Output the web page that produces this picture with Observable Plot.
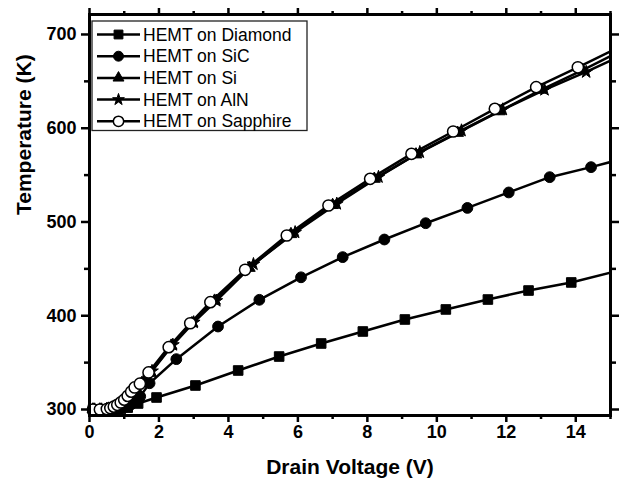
<!DOCTYPE html>
<html><head><meta charset="utf-8">
<script src="https://cdn.jsdelivr.net/npm/d3@7"></script>
<script src="https://cdn.jsdelivr.net/npm/@observablehq/plot@0.6"></script>
<style>
html,body{margin:0;padding:0;background:#fff;}
#chart{width:620px;height:486px;}
</style></head><body><div id="chart"></div>
<script>
// ---- data ----
const seriesNames = ["HEMT on Diamond", "HEMT on SiC", "HEMT on Si", "HEMT on AlN", "HEMT on Sapphire"];

const diamondV = [0.1, 0.4, 0.7, 0.9, 1.1, 1.4, 1.93, 3.05, 4.28, 5.46, 6.67, 7.87, 9.08, 10.26, 11.47, 12.64, 13.87, 15];
const diamondT = [300, 300, 300, 300.5, 302, 306.4, 312.8, 325.6, 341.6, 356.5, 370.4, 383.2, 396, 406.7, 417.3, 426.9, 435.5, 446];

const sicV = [0.1, 0.3, 0.5, 0.7, 0.9, 1.05, 1.2, 1.35, 1.46, 1.73, 2.5, 3.7, 4.89, 6.09, 7.29, 8.49, 9.68, 10.88, 12.07, 13.25, 14.44, 15];
const sicT = [300, 300, 300, 300.5, 301.5, 303, 305.5, 309, 314, 328, 353.7, 388.5, 417, 441, 462.5, 481.3, 498.7, 515, 531.5, 547.8, 558.5, 564];

const siV = [0.1, 0.3, 0.5, 0.7, 0.9, 1.05, 1.2, 1.35, 1.5, 1.75, 2.35, 2.95, 3.6, 4.6, 5.8, 7.0, 8.2, 9.4, 10.6, 11.8, 13.0, 14.2, 15];
const siT = [300, 300, 300.5, 302, 305, 309, 315, 321, 328, 339, 368, 392, 416, 451, 487, 518, 546, 572, 595, 618, 641, 662, 677];

const alnV = [0.15, 0.35, 0.55, 0.75, 0.95, 1.1, 1.25, 1.4, 1.55, 1.8, 2.4, 3.0, 3.65, 4.72, 5.92, 7.12, 8.32, 9.51, 10.71, 11.9, 13.1, 14.3, 15];
const alnT = [300, 300, 301, 302.5, 306, 311, 317, 323, 330, 341, 369, 393, 416, 455, 489, 519.4, 548, 574.5, 597.6, 620, 641, 660, 672];

const sapphireV = [0.1, 0.3, 0.5, 0.6, 0.7, 0.8, 0.9, 1.0, 1.1, 1.2, 1.3, 1.45, 1.7, 2.28, 2.9, 3.48, 4.48, 5.68, 6.88, 8.08, 9.27, 10.47, 11.67, 12.86, 14.06, 15];
const sapphireT = [300, 300, 300.5, 301.5, 303, 305, 307.5, 310.5, 314.5, 319, 323.5, 327.5, 339.5, 366.5, 392, 414.5, 449, 485.6, 517.6, 546, 572.7, 596.5, 620.7, 643.8, 665, 682];

const xTicks = [0, 2, 4, 6, 8, 10, 12, 14];
const xMinorTicks = [1, 3, 5, 7, 9, 11, 13, 15];
const yTicks = [300, 400, 500, 600, 700];
const yMinorTicks = [350, 450, 550, 650];
const xTitle = "Drain Voltage (V)";
const yTitle = "Temperature (K)";

// ---- styling per series ----
const styles = [
  {symbol: "square", fill: "black", stroke: "black", r: 5.4, sw: 1},
  {symbol: "circle", fill: "black", stroke: "black", r: 5.4, sw: 1},
  {symbol: "triangle", fill: "black", stroke: "black", r: 4.4, sw: 1},
  {symbol: "star", fill: "black", stroke: "black", r: 4.0, sw: 1},
  {symbol: "circle", fill: "white", stroke: "black", r: 5.6, sw: 1.5}
];
const vs = [diamondV, sicV, siV, alnV, sapphireV];
const ts = [diamondT, sicT, siT, alnT, sapphireT];

const series = seriesNames.map((name, i) => ({
  name, style: styles[i],
  rows: vs[i].map((v, j) => ({v, t: ts[i][j], last: j === vs[i].length - 1}))
}));

const font = "'Liberation Sans', Arial, Helvetica, sans-serif";

const marks = [];
for (const s of series) {
  marks.push(Plot.line(s.rows, {x: "v", y: "t", stroke: "black", strokeWidth: 2.5, clip: true}));
  marks.push(Plot.dot(s.rows.filter(d => !d.last), {
    x: "v", y: "t", symbol: s.style.symbol, r: s.style.r,
    fill: s.style.fill, stroke: s.style.stroke, strokeWidth: s.style.sw
  }));
}
const blank = () => "";
marks.push(
  Plot.axisX(xTicks, {anchor: "bottom", tickSize: 7, tickPadding: 3, strokeWidth: 2.5, fontSize: 18, fontWeight: "bold", label: null}),
  Plot.axisX(xMinorTicks, {anchor: "bottom", tickSize: 4, strokeWidth: 2.5, tickFormat: blank, label: null}),
  Plot.axisX(xTicks, {anchor: "top", tickSize: 7, strokeWidth: 2.5, tickFormat: blank, label: null}),
  Plot.axisX(xMinorTicks, {anchor: "top", tickSize: 4, strokeWidth: 2.5, tickFormat: blank, label: null}),
  Plot.axisY(yTicks, {anchor: "left", tickSize: 8, tickPadding: 5, strokeWidth: 2.5, fontSize: 18, fontWeight: "bold", label: null}),
  Plot.axisY(yMinorTicks, {anchor: "left", tickSize: 5, strokeWidth: 2.5, tickFormat: blank, label: null}),
  Plot.axisY(yTicks, {anchor: "right", tickSize: 8, strokeWidth: 2.5, tickFormat: blank, label: null}),
  Plot.axisY(yMinorTicks, {anchor: "right", tickSize: 5, strokeWidth: 2.5, tickFormat: blank, label: null}),
  Plot.frame({stroke: "black", strokeWidth: 3}),
  Plot.text([xTitle], {frameAnchor: "bottom", dy: 58, fontSize: 21, fontWeight: "bold", fill: "black"}),
  Plot.text([yTitle], {frameAnchor: "left", dx: -65, rotate: -90, fontSize: 21, fontWeight: "bold", fill: "black"})
);

const svg = Plot.plot({
  width: 620, height: 486,
  marginLeft: 89, marginRight: 10, marginTop: 14, marginBottom: 71,
  x: {domain: [0, 15]},
  y: {domain: [293.6, 721.3]},
  style: {fontFamily: font, color: "black", background: "white", overflow: "visible"},
  marks
});
document.getElementById("chart").appendChild(svg);

// ---- legend (inside plot, top-left) ----
const lg = d3.select(svg).append("g").attr("font-family", font).attr("text-anchor", "start");
const lx = 92, ly = 21, lw = 215, rowH = 21.7;
lg.append("rect").attr("x", lx).attr("y", ly).attr("width", lw).attr("height", rowH * series.length + 1)
  .attr("fill", "white").attr("stroke", "#222").attr("stroke-width", 1.3);
const symMap = {square: d3.symbolSquare, circle: d3.symbolCircle, triangle: d3.symbolTriangle, star: d3.symbolStar};
series.forEach((s, i) => {
  const cy = ly + 13.5 + i * rowH;
  const g = lg.append("g").attr("transform", `translate(0,${cy})`);
  g.append("line").attr("x1", lx + 5).attr("x2", lx + 48).attr("y1", 0).attr("y2", 0)
    .attr("stroke", "black").attr("stroke-width", 2.5);
  g.append("path").attr("transform", `translate(${lx + 26.5},0)`)
    .attr("d", d3.symbol(symMap[s.style.symbol], Math.PI * s.style.r * s.style.r * 0.85)())
    .attr("fill", s.style.fill).attr("stroke", s.style.stroke).attr("stroke-width", s.style.sw);
  g.append("text").attr("x", lx + 51).attr("y", 0).attr("dy", "0.35em")
    .attr("text-anchor", "start").attr("font-size", 17.5).attr("fill", "black").text(s.name);
});
</script>
</body></html>
